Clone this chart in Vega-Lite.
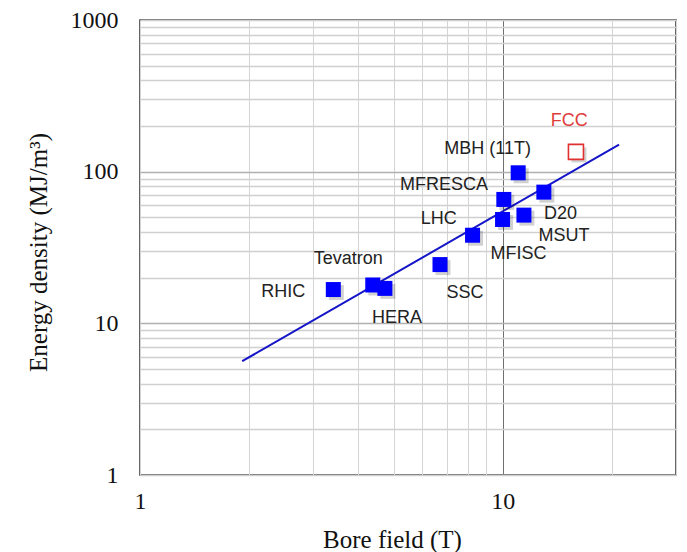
{
  "$schema": "https://vega.github.io/schema/vega-lite/v6.json",
  "width": 536,
  "height": 455,
  "autosize": {"type": "none"},
  "padding": {"left": 140, "top": 20, "right": 11, "bottom": 77},
  "background": "white",
  "config": {
    "view": {"stroke": "#404040", "strokeWidth": 1.6},
    "font": "Liberation Sans"
  },
  "datasets": {
    "magnets": [
      {"name": "RHIC", "x": 3.41, "y": 16.7, "lx": 2.48, "ly": 16.1, "kind": "existing"},
      {"name": "Tevatron", "x": 4.38, "y": 17.9, "lx": 3.75, "ly": 26.4, "kind": "existing"},
      {"name": "HERA", "x": 4.73, "y": 17.0, "lx": 5.11, "ly": 10.9, "kind": "existing"},
      {"name": "SSC", "x": 6.71, "y": 24.4, "lx": 7.86, "ly": 15.9, "kind": "existing"},
      {"name": "LHC", "x": 8.25, "y": 38.1, "lx": 6.66, "ly": 48.4, "kind": "existing"},
      {"name": "MFISC", "x": 9.98, "y": 48.4, "lx": 11.05, "ly": 28.5, "kind": "existing"},
      {"name": "MFRESCA", "x": 10.06, "y": 65.6, "lx": 6.88, "ly": 81.1, "kind": "existing"},
      {"name": "MBH (11T)", "x": 11.02, "y": 98.3, "lx": 9.08, "ly": 142, "kind": "existing"},
      {"name": "D20", "x": 11.43, "y": 51.7, "lx": 14.42, "ly": 52.4, "kind": "existing"},
      {"name": "MSUT", "x": 12.97, "y": 73.3, "lx": 14.75, "ly": 37.7, "kind": "existing"},
      {"name": "FCC", "x": 15.9, "y": 135, "lx": 15.23, "ly": 215, "kind": "future"}
    ],
    "fit": [
      {"x": 1.913, "y": 5.63},
      {"x": 20.9, "y": 151}
    ]
  },
  "encoding": {
    "x": {
      "field": "x",
      "type": "quantitative",
      "title": "Bore field (T)",
      "scale": {"type": "log", "domain": [1, 30], "nice": false, "zero": false},
      "axis": {
        "values": [1, 2, 3, 4, 5, 6, 7, 8, 9, 10, 20, 30],
        "labelExpr": "(datum.value == 1 || datum.value == 10) ? format(datum.value, 'd') : ''",
        "domain": false,
        "ticks": false,
        "tickSize": 0,
        "labelPadding": 14,
        "labelFont": "Liberation Serif",
        "labelFontSize": 24,
        "labelColor": "#111111",
        "labelFlush": false,
        "titleFont": "Liberation Serif",
        "titleFontSize": 25,
        "titleFontWeight": "normal",
        "titleColor": "#111111",
        "titleX": 252,
        "titleY": 64,
        "titleBaseline": "middle",
        "gridColor": {"condition": {"test": "datum.value == 10", "value": "#707070"}, "value": "#d4d4d4"},
        "gridWidth": 1
      }
    },
    "y": {
      "field": "y",
      "type": "quantitative",
      "title": "Energy density (MJ/m³)",
      "scale": {"type": "log", "domain": [1, 1000], "nice": false, "zero": false},
      "axis": {
        "values": [1, 2, 3, 4, 5, 6, 7, 8, 9, 10, 20, 30, 40, 50, 60, 70, 80, 90, 100, 200, 300, 400, 500, 600, 700, 800, 900, 1000],
        "labelExpr": "(datum.value == 1 || datum.value == 10 || datum.value == 100 || datum.value == 1000) ? format(datum.value, 'd') : ''",
        "domain": false,
        "ticks": false,
        "tickSize": 0,
        "labelPadding": 22,
        "labelFont": "Liberation Serif",
        "labelFontSize": 24,
        "labelColor": "#111111",
        "labelFlush": false,
        "titleFont": "Liberation Serif",
        "titleFontSize": 25,
        "titleFontWeight": "normal",
        "titleColor": "#111111",
        "titleAngle": -90,
        "titleX": -102,
        "titleY": 232,
        "titleAlign": "center",
        "titleBaseline": "middle",
        "gridColor": {"condition": {"test": "datum.value == 10 || datum.value == 100", "value": "#b0b0b0"}, "value": "#d0d0d0"},
        "gridWidth": 1.5
      }
    }
  },
  "layer": [
    {
      "data": {"name": "fit"},
      "mark": {"type": "line", "color": "#1414C8", "strokeWidth": 2},
      "encoding": {}
    },
    {
      "data": {"name": "magnets"},
      "mark": {"type": "point", "shape": "square", "size": 225, "filled": true, "color": "#000000", "opacity": 0.18, "xOffset": 3, "yOffset": 3},
      "encoding": {}
    },
    {
      "data": {"name": "magnets"},
      "transform": [{"filter": "datum.kind == 'existing'"}],
      "mark": {"type": "point", "shape": "square", "size": 225, "filled": true, "color": "#0000FF", "opacity": 1},
      "encoding": {}
    },
    {
      "data": {"name": "magnets"},
      "transform": [{"filter": "datum.kind == 'future'"}],
      "mark": {"type": "point", "shape": "square", "size": 225, "filled": false, "fill": "#ffffff", "fillOpacity": 1, "stroke": "#E03030", "strokeWidth": 1.6, "opacity": 1},
      "encoding": {}
    },
    {
      "data": {"name": "magnets"},
      "mark": {"type": "text", "font": "Liberation Sans", "fontSize": 18, "align": "center", "baseline": "middle"},
      "encoding": {
        "x": {"field": "lx", "type": "quantitative", "title": "Bore field (T)", "scale": {"type": "log", "domain": [1, 30], "nice": false, "zero": false}},
        "y": {"field": "ly", "type": "quantitative", "title": "Energy density (MJ/m³)", "scale": {"type": "log", "domain": [1, 1000], "nice": false, "zero": false}},
        "text": {"field": "name"},
        "color": {
          "condition": {"test": "datum.kind == 'future'", "value": "#E03C3C"},
          "value": "#222222"
        }
      }
    }
  ]
}
